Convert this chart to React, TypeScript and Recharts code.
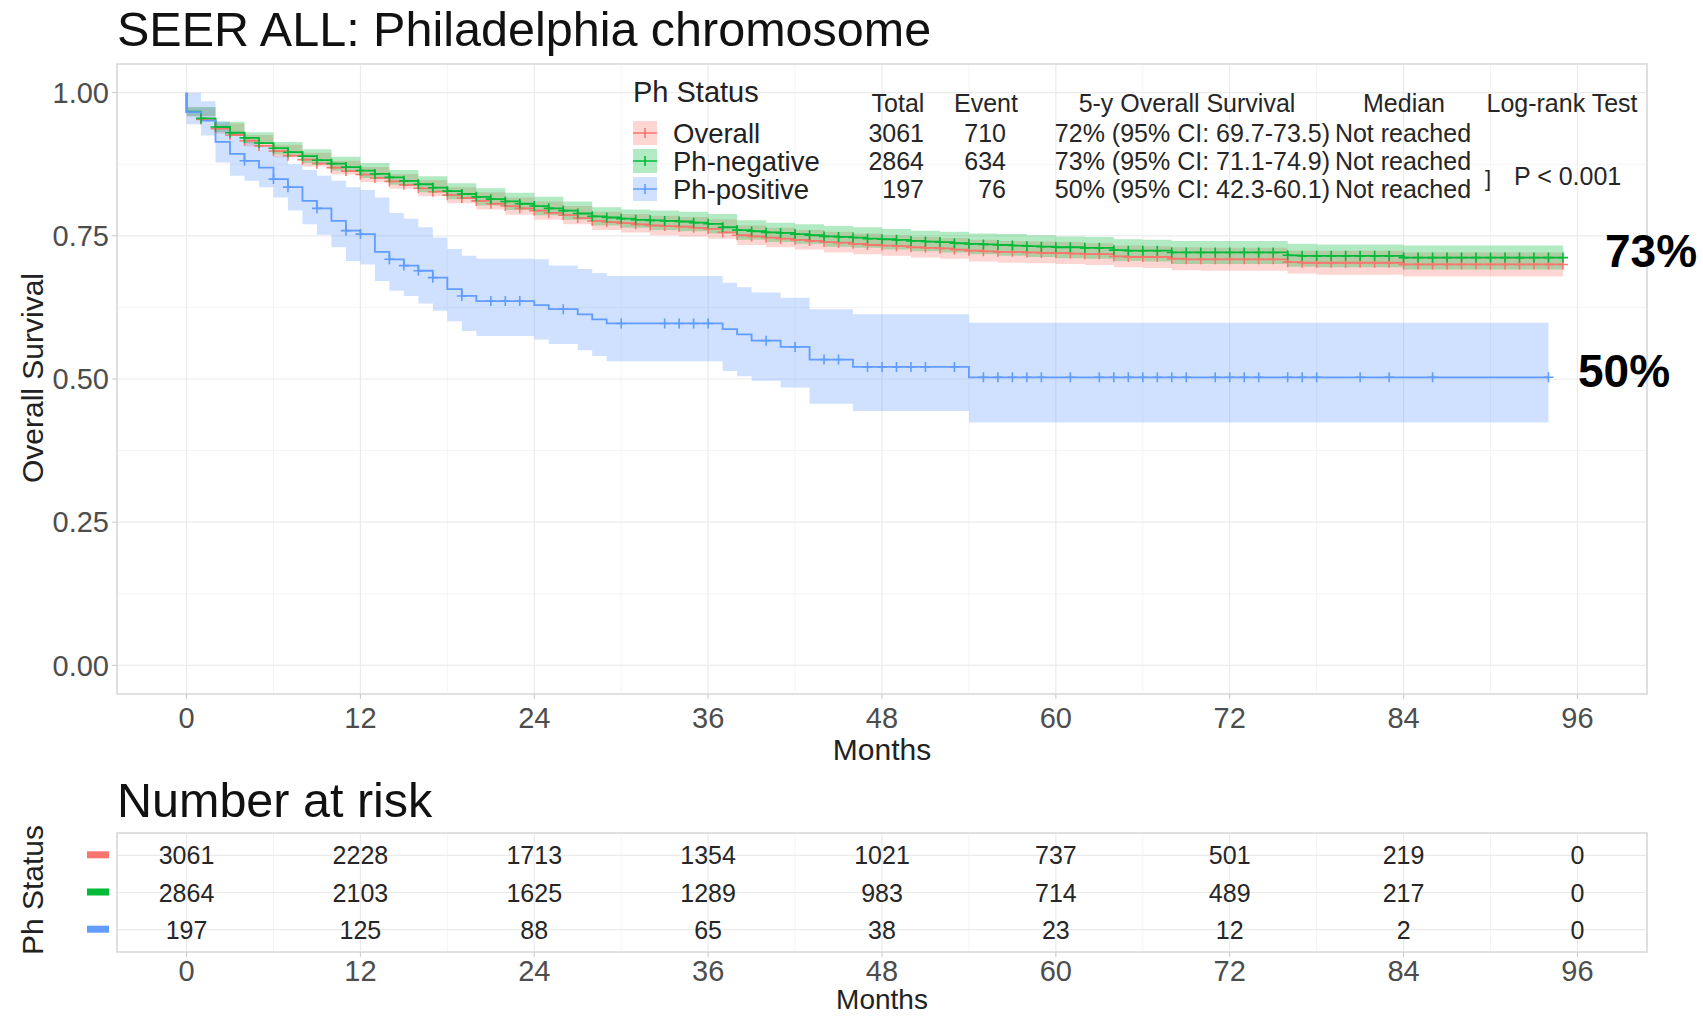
import React from "react";
import { ComposedChart, Line, Area, Scatter, XAxis, YAxis, CartesianGrid, ReferenceArea } from "recharts";

const FONT = "'Liberation Sans', Arial, Helvetica, sans-serif";
const RED = "#F8766D";
const GREEN = "#00BA38";
const BLUE = "#619CFF";

const MONTH_TICKS = [0, 12, 24, 36, 48, 60, 72, 84, 96];
const MONTH_MINOR = [6, 18, 30, 42, 54, 66, 78, 90];
const SURV_TICKS = [0, 0.25, 0.5, 0.75, 1];
const SURV_MINOR = [0.125, 0.375, 0.625, 0.875];

// survival at months 0..95 (value after the step at that month)
const OVERALL_S = [
  0.966, 0.953, 0.937, 0.926, 0.916, 0.907, 0.898, 0.890, 0.883, 0.876,
  0.869, 0.863, 0.857, 0.851, 0.845, 0.839, 0.833, 0.827, 0.821, 0.816,
  0.811, 0.806, 0.802, 0.798, 0.794, 0.790, 0.786, 0.781, 0.776, 0.774,
  0.772, 0.770, 0.768, 0.767, 0.766, 0.764, 0.762, 0.756, 0.751, 0.749,
  0.747, 0.745, 0.743, 0.741, 0.739, 0.738, 0.736, 0.734, 0.733, 0.732,
  0.730, 0.729, 0.728, 0.726, 0.724, 0.723, 0.722, 0.722, 0.721, 0.720,
  0.720, 0.719, 0.718, 0.718, 0.714, 0.713, 0.713, 0.713, 0.710, 0.709,
  0.709, 0.709, 0.709, 0.709, 0.709, 0.709, 0.704, 0.703, 0.703, 0.703,
  0.703, 0.703, 0.703, 0.703, 0.700, 0.700, 0.700, 0.700, 0.700, 0.700,
  0.700, 0.700, 0.700, 0.700, 0.700, 0.700,
];
const PHNEG_S = [
  0.967, 0.955, 0.940, 0.930, 0.921, 0.912, 0.903, 0.896, 0.889, 0.882,
  0.876, 0.870, 0.864, 0.858, 0.852, 0.846, 0.840, 0.834, 0.828, 0.823,
  0.818, 0.814, 0.810, 0.806, 0.802, 0.798, 0.794, 0.789, 0.784, 0.782,
  0.780, 0.778, 0.777, 0.776, 0.775, 0.773, 0.771, 0.765, 0.760, 0.758,
  0.756, 0.755, 0.753, 0.751, 0.749, 0.748, 0.747, 0.745, 0.744, 0.743,
  0.741, 0.740, 0.739, 0.737, 0.736, 0.735, 0.734, 0.733, 0.732, 0.731,
  0.730, 0.730, 0.729, 0.729, 0.725, 0.724, 0.724, 0.724, 0.721, 0.721,
  0.721, 0.721, 0.721, 0.721, 0.721, 0.721, 0.716, 0.715, 0.715, 0.715,
  0.715, 0.715, 0.715, 0.715, 0.712, 0.712, 0.712, 0.712, 0.712, 0.712,
  0.712, 0.712, 0.712, 0.712, 0.712, 0.712,
];

// 95% CI bands (read every 2 months)
const BAND_M = [
  0, 2, 4, 6, 8, 10, 12, 14, 16, 18, 20, 22, 24, 26, 28, 30, 32, 34, 36, 38,
  40, 42, 44, 46, 48, 50, 52, 54, 56, 58, 60, 62, 64, 66, 68, 70, 72, 74, 76, 78,
  80, 82, 84, 86, 88, 90, 92, 94, 95,
];
const OVERALL_LO = [
  0.958, 0.928, 0.906, 0.887, 0.871, 0.857, 0.844, 0.832, 0.819, 0.807,
  0.796, 0.787, 0.778, 0.770, 0.760, 0.756, 0.751, 0.749, 0.745, 0.734,
  0.730, 0.726, 0.721, 0.718, 0.715, 0.712, 0.710, 0.705, 0.703, 0.702,
  0.701, 0.699, 0.695, 0.694, 0.690, 0.689, 0.689, 0.689, 0.684, 0.682,
  0.682, 0.682, 0.679, 0.679, 0.679, 0.679, 0.679, 0.679, 0.678,
];
const OVERALL_HI = [
  0.974, 0.946, 0.926, 0.909, 0.895, 0.881, 0.870, 0.858, 0.847, 0.835,
  0.826, 0.817, 0.810, 0.802, 0.792, 0.788, 0.785, 0.783, 0.779, 0.768,
  0.764, 0.760, 0.757, 0.754, 0.751, 0.748, 0.746, 0.743, 0.741, 0.740,
  0.739, 0.737, 0.733, 0.732, 0.730, 0.729, 0.729, 0.729, 0.724, 0.724,
  0.724, 0.724, 0.721, 0.721, 0.721, 0.721, 0.721, 0.721, 0.722,
];
const PHNEG_LO = [
  0.959, 0.931, 0.911, 0.892, 0.877, 0.864, 0.851, 0.839, 0.826, 0.814,
  0.803, 0.795, 0.786, 0.778, 0.768, 0.764, 0.760, 0.758, 0.754, 0.743,
  0.739, 0.736, 0.731, 0.729, 0.726, 0.723, 0.721, 0.718, 0.715, 0.713,
  0.711, 0.710, 0.706, 0.705, 0.701, 0.701, 0.701, 0.701, 0.696, 0.695,
  0.695, 0.695, 0.691, 0.691, 0.691, 0.691, 0.691, 0.691, 0.690,
];
const PHNEG_HI = [
  0.975, 0.949, 0.931, 0.914, 0.901, 0.888, 0.877, 0.865, 0.854, 0.842,
  0.833, 0.825, 0.818, 0.810, 0.800, 0.796, 0.794, 0.792, 0.788, 0.777,
  0.773, 0.770, 0.767, 0.765, 0.762, 0.759, 0.757, 0.754, 0.753, 0.751,
  0.749, 0.748, 0.744, 0.743, 0.741, 0.741, 0.741, 0.741, 0.736, 0.735,
  0.735, 0.735, 0.733, 0.733, 0.733, 0.733, 0.733, 0.733, 0.734,
];

// Ph-positive: step times, survival, censor months, CI band
const PHPOS_T = [
  0, 1, 2, 3, 4, 5, 6, 7, 8, 9, 10, 11, 12, 13, 14, 15, 16, 17, 18, 19,
  20, 21, 22, 23, 24, 25, 26, 27, 28, 29, 30, 33, 34, 35, 36, 37, 38, 39, 40, 41,
  42, 43, 44, 45, 46, 47, 48, 49, 50, 51, 53, 54, 55, 56, 57, 58, 59, 61, 63, 64,
  65, 66, 67, 68, 69, 71, 72, 73, 74, 76, 77, 78, 81, 83, 86, 94,
];
const PHPOS_S = [
  0.966, 0.951, 0.914, 0.893, 0.881, 0.869, 0.849, 0.835, 0.811, 0.798,
  0.776, 0.759, 0.753, 0.722, 0.709, 0.698, 0.689, 0.677, 0.657, 0.645,
  0.636, 0.636, 0.636, 0.636, 0.629, 0.622, 0.622, 0.613, 0.604, 0.597,
  0.597, 0.597, 0.597, 0.597, 0.597, 0.587, 0.578, 0.567, 0.567, 0.556,
  0.556, 0.534, 0.534, 0.534, 0.521, 0.521, 0.521, 0.521, 0.521, 0.521,
  0.521, 0.503, 0.503, 0.503, 0.503, 0.503, 0.503, 0.503, 0.503, 0.503,
  0.503, 0.503, 0.503, 0.503, 0.503, 0.503, 0.503, 0.503, 0.503, 0.503,
  0.503, 0.503, 0.503, 0.503, 0.503, 0.503,
];
const PHPOS_CENSOR = [
  4, 6, 7, 9, 11, 12, 14, 15, 16, 17, 19, 21, 22, 23, 26, 30, 33, 34, 35, 36,
  40, 42, 44, 45, 47, 48, 49, 50, 51, 53, 55, 56, 57, 58, 59, 61, 63, 64, 65, 66,
  67, 68, 69, 71, 72, 73, 74, 76, 77, 78, 81, 83, 86, 94,
];
const PHPOS_BAND_T = [0, 1, 2, 3, 4, 5, 6, 7, 8, 9, 10, 11, 12, 13, 14, 15, 16, 17, 18, 19, 20, 24, 25, 27, 28, 29, 37, 38, 39, 41, 43, 46, 54, 94];
const PHPOS_LO = [
  0.945, 0.925, 0.878, 0.855, 0.846, 0.835, 0.817, 0.794, 0.770, 0.752,
  0.730, 0.706, 0.700, 0.671, 0.654, 0.645, 0.632, 0.619, 0.601, 0.584,
  0.575, 0.569, 0.561, 0.550, 0.540, 0.531, 0.514, 0.505, 0.497, 0.485,
  0.457, 0.444, 0.424, 0.424,
];
const PHPOS_HI = [
  1.0, 0.985, 0.950, 0.930, 0.915, 0.905, 0.890, 0.875, 0.865, 0.855,
  0.846, 0.835, 0.830, 0.817, 0.790, 0.780, 0.765, 0.747, 0.727, 0.715,
  0.710, 0.709, 0.698, 0.692, 0.685, 0.680, 0.668, 0.660, 0.651, 0.642,
  0.622, 0.613, 0.598, 0.598,
];

// legend table
const GROUPS = ["Overall", "Ph-negative", "Ph-positive"];
const GROUP_COLORS = [RED, GREEN, BLUE];
const TOTALS = ["3061", "2864", "197"];
const EVENTS = ["710", "634", "76"];
const FIVE_Y = ["72% (95% CI: 69.7-73.5)", "73% (95% CI: 71.1-74.9)", "50% (95% CI: 42.3-60.1)"];
const MEDIANS = ["Not reached", "Not reached", "Not reached"];

// number at risk
const RISK_OVERALL = [3061, 2228, 1713, 1354, 1021, 737, 501, 219, 0];
const RISK_PHNEG = [2864, 2103, 1625, 1289, 983, 714, 489, 217, 0];
const RISK_PHPOS = [197, 125, 88, 65, 38, 23, 12, 2, 0];

const overallLine = [{ m: 0, s: 1 }, ...OVERALL_S.map((s, i) => ({ m: i, s, c: i > 0 }))];
const negLine = [{ m: 0, s: 1 }, ...PHNEG_S.map((s, i) => ({ m: i, s, c: i > 0 }))];
const posLine = [{ m: 0, s: 1 }, ...PHPOS_T.map((m, i) => ({ m, s: PHPOS_S[i], c: PHPOS_CENSOR.includes(m) }))];
const overallBand = BAND_M.map((m, i) => ({ m, band: [OVERALL_LO[i], OVERALL_HI[i]] }));
const negBand = BAND_M.map((m, i) => ({ m, band: [PHNEG_LO[i], PHNEG_HI[i]] }));
const posBand = PHPOS_BAND_T.map((m, i) => ({ m, band: [PHPOS_LO[i], PHPOS_HI[i]] }));

const riskData = [
  ...RISK_OVERALL.map((n, i) => ({ m: MONTH_TICKS[i], row: 3, n })),
  ...RISK_PHNEG.map((n, i) => ({ m: MONTH_TICKS[i], row: 2, n })),
  ...RISK_PHPOS.map((n, i) => ({ m: MONTH_TICKS[i], row: 1, n })),
];
const ROW_COLORS: Record<number, string> = { 3: RED, 2: GREEN, 1: BLUE };

const tickStyle = { fill: "#4d4d4d", fontSize: 29, fontFamily: FONT };

const plusDot = (color: string) => (p: any) => {
  const { cx, cy, payload, index } = p;
  if (!payload || !payload.c || cx == null || cy == null) return <g key={`d${index}`} />;
  return <path key={`d${index}`} d={`M${cx - 5},${cy}H${cx + 5}M${cx},${cy - 5}V${cy + 5}`} stroke={color} strokeWidth={1.6} fill="none" />;
};

const riskText = (p: any) => (
  <text x={p.cx} y={p.cy} dy="0.36em" textAnchor="middle" fontSize={25} fontFamily={FONT} fill="#262626">
    {p.payload.n}
  </text>
);

const RiskTick = (p: any) => (
  <rect x={p.x - 22} y={p.y - 4} width={22} height={7} fill={ROW_COLORS[p.payload.value]} />
);

export default function App() {
  const rowY = [133, 161, 189];
  return (
    <div style={{ position: "relative", width: 1703, height: 1017, background: "#fff", fontFamily: FONT }}>
      <style>{`body{margin:0}`}</style>
      <div style={{ position: "absolute", left: 0, top: 0 }}>
        <ComposedChart width={1703} height={790} margin={{ top: 64, right: 56, bottom: 36, left: 47 }}>
          <CartesianGrid stroke="#f4f4f4" strokeWidth={1} verticalValues={MONTH_MINOR} horizontalValues={SURV_MINOR} />
          <CartesianGrid stroke="#ebebeb" strokeWidth={1.2} />
          <XAxis type="number" dataKey="m" domain={[-4.8, 100.8]} ticks={MONTH_TICKS} allowDataOverflow
            axisLine={false} tickLine={{ stroke: "#c8c8c8" }} tickSize={5} tickMargin={8} height={60} tick={tickStyle} />
          <YAxis type="number" domain={[-0.05, 1.05]} ticks={SURV_TICKS} allowDataOverflow
            tickFormatter={(v: number) => v.toFixed(2)} axisLine={false} tickLine={{ stroke: "#c8c8c8" }}
            tickSize={5} tickMargin={3} width={70} tick={tickStyle} />
          <Line data={overallLine} dataKey="s" type="stepAfter" stroke={RED} strokeWidth={1.8} dot={plusDot(RED)} activeDot={false} isAnimationActive={false} />
          <Line data={negLine} dataKey="s" type="stepAfter" stroke={GREEN} strokeWidth={1.8} dot={plusDot(GREEN)} activeDot={false} isAnimationActive={false} />
          <Line data={posLine} dataKey="s" type="stepAfter" stroke={BLUE} strokeWidth={1.8} dot={plusDot(BLUE)} activeDot={false} isAnimationActive={false} />
          <Area data={overallBand} dataKey="band" type="stepAfter" stroke="none" fill={RED} fillOpacity={0.3} isAnimationActive={false} />
          <Area data={negBand} dataKey="band" type="stepAfter" stroke="none" fill={GREEN} fillOpacity={0.3} isAnimationActive={false} />
          <Area data={posBand} dataKey="band" type="stepAfter" stroke="none" fill={BLUE} fillOpacity={0.3} isAnimationActive={false} />
          <ReferenceArea x1={-4.8} x2={100.8} y1={-0.05} y2={1.05} fill="none" fillOpacity={0} stroke="#d9d9d9" strokeWidth={1.5} />
        </ComposedChart>
      </div>
      <div style={{ position: "absolute", left: 0, top: 800 }}>
        <ComposedChart width={1703} height={217} margin={{ top: 33, right: 56, bottom: 20, left: 47 }}>
          <CartesianGrid stroke="#f4f4f4" strokeWidth={1} verticalValues={MONTH_MINOR} horizontal={false} />
          <CartesianGrid stroke="#ebebeb" strokeWidth={1.2} />
          <XAxis type="number" dataKey="m" domain={[-4.8, 100.8]} ticks={MONTH_TICKS} allowDataOverflow
            axisLine={false} tickLine={{ stroke: "#c8c8c8" }} tickSize={5} tickMargin={3} height={45} tick={tickStyle} />
          <YAxis type="number" dataKey="row" domain={[0.4, 3.6]} ticks={[1, 2, 3]} allowDataOverflow
            axisLine={false} tickLine={false} tickSize={0} tickMargin={8} width={70} tick={<RiskTick />} />
          <Scatter data={riskData} shape={riskText} isAnimationActive={false} />
          <ReferenceArea x1={-4.8} x2={100.8} y1={0.4} y2={3.6} fill="none" fillOpacity={0} stroke="#d9d9d9" strokeWidth={1.5} />
        </ComposedChart>
      </div>
      <svg width={1703} height={1017} style={{ position: "absolute", left: 0, top: 0, pointerEvents: "none" }} fontFamily={FONT}>
        <text x={117} y={46} fontSize={48.5} fill="#111">SEER ALL: Philadelphia chromosome</text>
        <text x={117} y={817} fontSize={48.5} fill="#111">Number at risk</text>
        <text x={882} y={760} fontSize={30} textAnchor="middle" fill="#222">Months</text>
        <text x={882} y={1009} fontSize={28} textAnchor="middle" fill="#222">Months</text>
        <text transform="translate(43,378) rotate(-90)" fontSize={30} textAnchor="middle" fill="#222">Overall Survival</text>
        <text transform="translate(43,890) rotate(-90)" fontSize={30} textAnchor="middle" fill="#222">Ph Status</text>

        <text x={633} y={102} fontSize={29} fill="#222">Ph Status</text>
        <text x={898} y={112} fontSize={25} textAnchor="middle" fill="#262626">Total</text>
        <text x={986} y={112} fontSize={25} textAnchor="middle" fill="#262626">Event</text>
        <text x={1187} y={112} fontSize={25} textAnchor="middle" fill="#262626">5-y Overall Survival</text>
        <text x={1404} y={112} fontSize={25} textAnchor="middle" fill="#262626">Median</text>
        <text x={1562} y={112} fontSize={25} textAnchor="middle" fill="#262626">Log-rank Test</text>
        {GROUPS.map((g, i) => (
          <g key={g}>
            <rect x={633} y={rowY[i] - 12} width={24} height={24} fill={GROUP_COLORS[i]} fillOpacity={0.3} />
            <path d={`M633,${rowY[i]}H657M645,${rowY[i] - 5}V${rowY[i] + 5}`} stroke={GROUP_COLORS[i]} strokeWidth={1.6} />
            <text x={673} y={rowY[i] + 10} fontSize={27.5} fill="#222">{g}</text>
            <text x={924} y={rowY[i] + 9} fontSize={25} textAnchor="end" fill="#262626">{TOTALS[i]}</text>
            <text x={1006} y={rowY[i] + 9} fontSize={25} textAnchor="end" fill="#262626">{EVENTS[i]}</text>
            <text x={1330} y={rowY[i] + 9} fontSize={25} textAnchor="end" fill="#262626">{FIVE_Y[i]}</text>
            <text x={1403} y={rowY[i] + 9} fontSize={25} textAnchor="middle" fill="#262626">{MEDIANS[i]}</text>
          </g>
        ))}
        <text x={1485} y={186} fontSize={22} fill="#262626">]</text>
        <text x={1514} y={185} fontSize={25} fill="#262626">P &lt; 0.001</text>

        <text x={1605} y={267} fontSize={46} fontWeight="bold" fill="#000">73%</text>
        <text x={1578} y={387} fontSize={46} fontWeight="bold" fill="#000">50%</text>
      </svg>
    </div>
  );
}
